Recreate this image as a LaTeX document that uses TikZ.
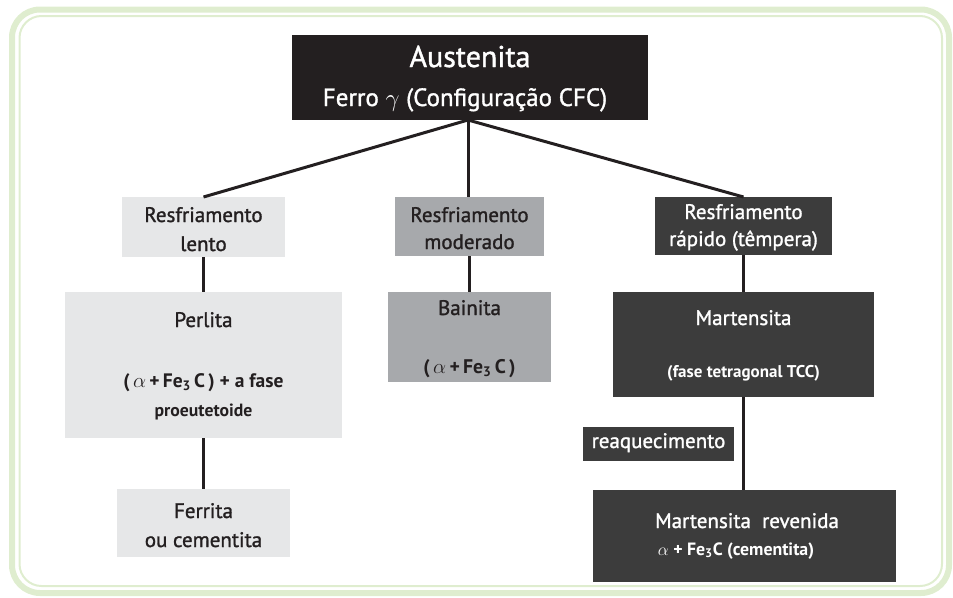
\documentclass[tikz,border=0pt]{standalone}
\usepackage{fontspec}
\setmainfont{PT Sans}
\newfontfamily\semib{PT Sans}[FakeBold=1.3]
\definecolor{framegreen}{HTML}{DFEDCF}
\definecolor{boxblack}{HTML}{231F20}
\definecolor{boxdark}{HTML}{3C3C3C}
\definecolor{boxlight}{HTML}{E6E7E8}
\definecolor{boxmid}{HTML}{A7A9AC}
\definecolor{linecol}{HTML}{231F20}
\tikzset{
  box/.style={rectangle, inner sep=0pt, outer sep=0pt, draw=none},
  lightbox/.style={box, fill=boxlight},
  midbox/.style={box, fill=boxmid},
  darkbox/.style={box, fill=boxdark},
  blackbox/.style={box, fill=boxblack},
  txt/.style={inner sep=0pt, anchor=base, text=boxblack},
  wtxt/.style={inner sep=0pt, anchor=base, text=white},
  conn/.style={draw=linecol, line width=3pt},
}
\newcommand{\fe}{Fe\textsubscript{3}}
\begin{document}
\begin{tikzpicture}[x=1pt, y=-1pt]
\useasboundingbox (0,0) rectangle (953,597);
% frame
\draw[framegreen, line width=6pt, rounded corners=28pt] (12,9.5) rectangle (949,593);
\draw[framegreen, line width=2pt, rounded corners=22pt] (19.5,16) rectangle (942,586);
% boxes
\node[blackbox, minimum width=356pt, minimum height=85pt] (aus) at (470,77.5) {};
\node[lightbox, minimum width=163pt, minimum height=60pt] (lento) at (203.5,227) {};
\node[midbox, minimum width=149pt, minimum height=59pt] (moder) at (469.5,226.5) {};
\node[darkbox, minimum width=177pt, minimum height=58pt] (rapido) at (743.5,226) {};
\node[lightbox, minimum width=277pt, minimum height=146pt] (perlita) at (203.5,365) {};
\node[midbox, minimum width=163pt, minimum height=90pt] (bainita) at (469.5,337) {};
\node[darkbox, minimum width=261pt, minimum height=105pt] (mart) at (743.5,344.5) {};
\node[darkbox, minimum width=151pt, minimum height=34pt] (reaq) at (658.5,444) {};
\node[lightbox, minimum width=173pt, minimum height=68pt] (ferrita) at (203.5,523) {};
\node[darkbox, minimum width=303pt, minimum height=92pt] (rev) at (744.5,536) {};
% connectors
\coordinate (apex) at ([xshift=-2pt]aus.south);
\draw[conn] (apex) -- (lento.north);
\draw[conn] (apex) -- (apex |- moder.north);
\draw[conn] (apex) -- (rapido.north);
\draw[conn] (lento.south) -- (perlita.north);
\draw[conn] (perlita.south) -- (ferrita.north);
\draw[conn] (moder.south) -- (bainita.north);
\draw[conn] (rapido.south) -- (mart.north);
\draw[conn] (mart.south) -- (mart.south |- rev.north);
% texts
\node[wtxt, font=\semib\fontsize{30}{32}\selectfont] (ausA) at (470,67) {Austenita};
\node[wtxt, font=\semib\fontsize{25}{28}\selectfont] (ausB) at (465,106) {Ferro $\gamma$ (Configuração CFC)};
\node[txt, font=\semib\fontsize{21}{24}\selectfont] (lentoA) at (203.5,222) {Resfriamento};
\node[txt, font=\semib\fontsize{21}{24}\selectfont] (lentoB) at (203.5,251) {lento};
\node[txt, font=\semib\fontsize{21}{24}\selectfont] (moderA) at (469.5,222) {Resfriamento};
\node[txt, font=\semib\fontsize{21}{24}\selectfont] (moderB) at (469.5,249) {moderado};
\node[wtxt, font=\semib\fontsize{21}{24}\selectfont] (rapA) at (743.5,219) {Resfriamento};
\node[wtxt, font=\semib\fontsize{21}{24}\selectfont] (rapB) at (743.5,246) {rápido (têmpera)};
\node[txt, font=\semib\fontsize{21}{24}\selectfont] (perA) at (203.5,327) {Perlita};
\node[txt, font=\bfseries\fontsize{19.5}{22}\selectfont] (perB) at (203.5,387) {(\,$\alpha$\,+\,\fe\,C\,) + a fase};
\node[txt, font=\bfseries\fontsize{17.7}{20}\selectfont] (perC) at (203.5,416) {proeutetoide};
\node[txt, font=\semib\fontsize{21}{24}\selectfont] (baiA) at (469.5,315) {Bainita};
\node[txt, font=\bfseries\fontsize{19.7}{22}\selectfont] (baiB) at (469.5,373) {(\,$\alpha$\,+\,\fe\,C\,)};
\node[wtxt, font=\semib\fontsize{21}{24}\selectfont] (marA) at (743.5,325) {Martensita};
\node[wtxt, font=\bfseries\fontsize{17}{20}\selectfont] (marB) at (743.5,377) {(fase tetragonal TCC)};
\node[wtxt, font=\semib\fontsize{21}{24}\selectfont] (reaqT) at (658.5,448) {reaquecimento};
\node[txt, font=\semib\fontsize{21}{24}\selectfont] (ferA) at (203.5,518) {Ferrita};
\node[txt, font=\semib\fontsize{21}{24}\selectfont] (ferB) at (203.5,547) {ou cementita};
\node[wtxt, font=\semib\fontsize{21}{24}\selectfont] (revA) at (747,528) {Martensita\ \ revenida};
\node[wtxt, font=\bfseries\fontsize{17.8}{20}\selectfont] (revB) at (736,555) {$\alpha$ + \fe C (cementita)};
\end{tikzpicture}
\end{document}
